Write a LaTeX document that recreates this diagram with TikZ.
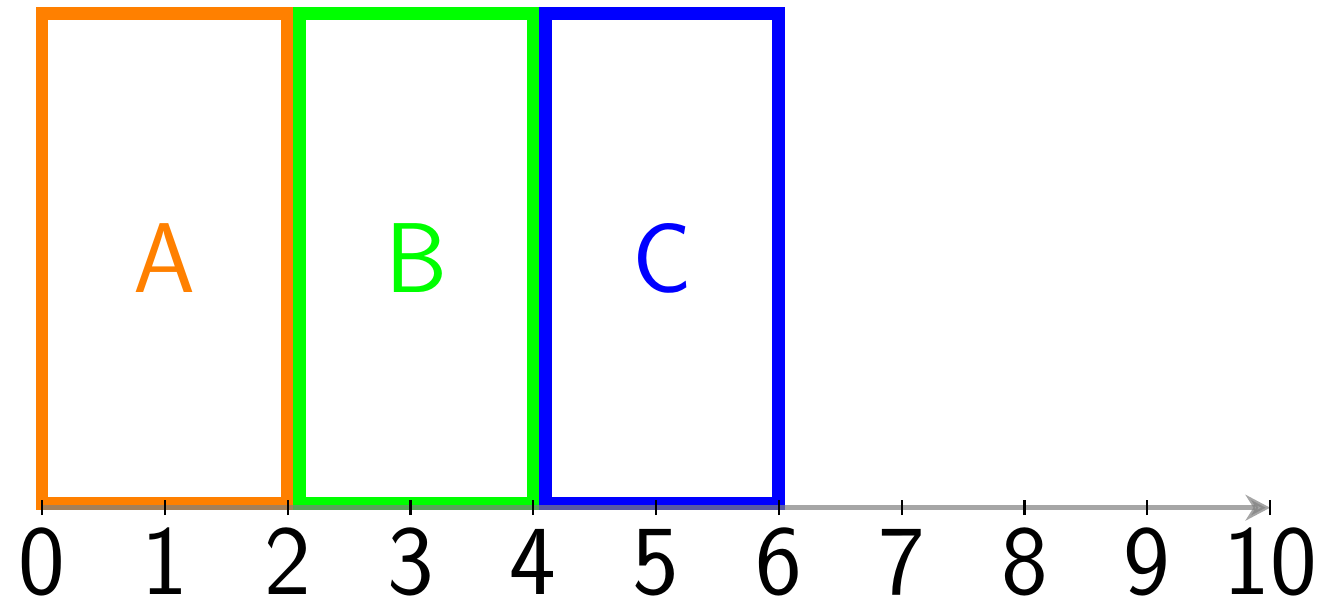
\documentclass[tikz,border=0pt]{standalone}
\usetikzlibrary{arrows.meta}
\newcommand{\bigsf}{\fontsize{23}{28}\selectfont\sffamily}
\begin{document}
\begin{tikzpicture}[line width=0.6pt, >={Stealth[length=2mm, width=2.1mm]},
  box/.style={draw, line width=3pt, minimum width=#1, minimum height=3.99cm, inner sep=0pt, font=\bigsf}]
  \useasboundingbox (-0.342,-0.760) rectangle (10.480,4.134);
  % 구간 상자
  \node[box=2cm, draw=orange, text=orange] (A) at (1.0,2.03) {A};
  \node[box=1.9cm, draw=green, text=green] (B) at (3.05,2.03) {B};
  \node[box=1.9cm, draw=blue, text=blue] (C) at (5.05,2.03) {C};
  % 수직선
  \coordinate (o) at (0,0);
  \coordinate (e) at (10,0);
  \draw[->, gray, opacity=0.7, line width=1.2pt] (o) -- (e);
  \foreach \i in {0,...,10} {
    \draw[line width=0.5pt] (\i,-0.06) -- (\i,0.06);
    \node[font=\bigsf, inner sep=0pt, anchor=base] (n\i) at (\i,-0.703) {\i};
  }
\end{tikzpicture}
\end{document}
